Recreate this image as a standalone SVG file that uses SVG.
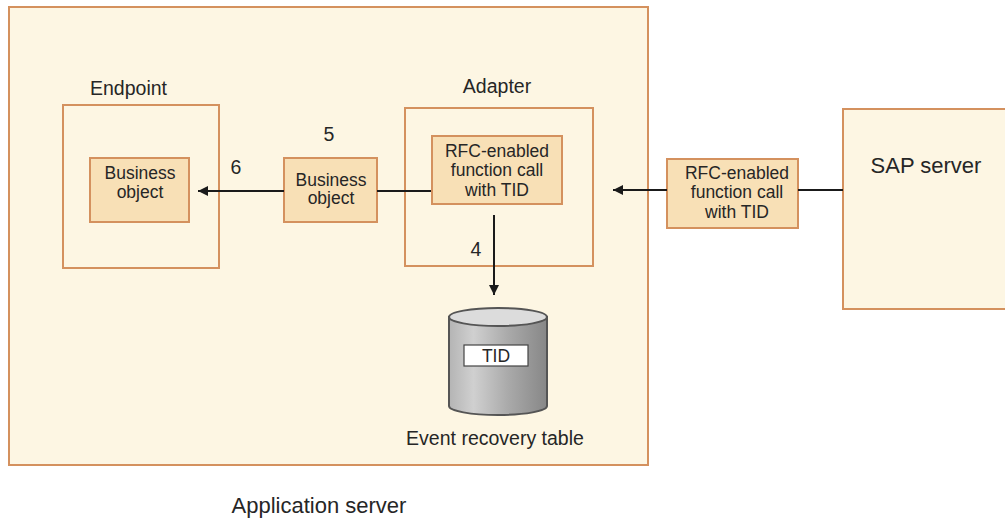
<svg xmlns="http://www.w3.org/2000/svg" width="1005" height="518" viewBox="0 0 1005 518">
<style>
.outer{fill:#fdf6e3;stroke:#d4915e;stroke-width:2}
.inner{fill:#f8e0b6;stroke:#d4915e;stroke-width:2}
.t{font-family:"Liberation Sans",Arial,sans-serif;fill:#262626}
.s18{font-size:17.5px}
.s20{font-size:19.5px}
.s22{font-size:22px}
.conn{stroke:#1a1a1a;stroke-width:2;fill:none}
</style>
<defs>
<marker id="arr" viewBox="0 0 10 10" refX="10" refY="5" markerWidth="10" markerHeight="10" markerUnits="userSpaceOnUse" orient="auto">
<path d="M0,0 L10,5 L0,10 Z" fill="#1a1a1a"/>
</marker>
<linearGradient id="cyl" x1="0" y1="0" x2="1" y2="0">
<stop offset="0" stop-color="#b4b4b4"/>
<stop offset="0.25" stop-color="#d0d0d0"/>
<stop offset="0.6" stop-color="#aaaaaa"/>
<stop offset="1" stop-color="#878787"/>
</linearGradient>
</defs>
<rect width="1005" height="518" fill="#ffffff"/>
<g id="application-server">
<rect class="outer" x="9" y="7" width="639" height="458"/>
<text class="t s22" x="319" y="513" text-anchor="middle">Application server</text>
</g>
<g id="sap-server">
<rect class="outer" x="843" y="109" width="170" height="200"/>
<text class="t s22" x="926" y="173" text-anchor="middle">SAP server</text>
</g>
<g id="endpoint">
<rect class="outer" x="63" y="105" width="156" height="163"/>
<text class="t s20" x="90" y="95">Endpoint</text>
</g>
<g id="endpoint-business-object">
<rect class="inner" x="90" y="158" width="99" height="64"/>
<text class="t s18" x="140" y="179" text-anchor="middle">Business</text>
<text class="t s18" x="140" y="198" text-anchor="middle">object</text>
</g>
<g id="business-object">
<rect class="inner" x="284" y="158" width="93" height="64"/>
<text class="t s18" x="331" y="186" text-anchor="middle">Business</text>
<text class="t s18" x="331" y="204" text-anchor="middle">object</text>
</g>
<g id="adapter">
<rect class="outer" x="405" y="108" width="188" height="158"/>
<text class="t s20" x="497" y="93" text-anchor="middle">Adapter</text>
</g>
<g id="adapter-rfc">
<rect class="inner" x="432" y="136" width="130" height="68"/>
<text class="t s18" x="497" y="157" text-anchor="middle">RFC-enabled</text>
<text class="t s18" x="497" y="176" text-anchor="middle">function call</text>
<text class="t s18" x="497" y="196" text-anchor="middle">with TID</text>
</g>
<g id="sap-rfc">
<rect class="inner" x="667" y="159" width="131" height="69"/>
<text class="t s18" x="737" y="179" text-anchor="middle">RFC-enabled</text>
<text class="t s18" x="737" y="198" text-anchor="middle">function call</text>
<text class="t s18" x="737" y="218" text-anchor="middle">with TID</text>
</g>
<g id="event-recovery-table">
<path d="M449,317 L449,406 A49,9 0 0 0 547,406 L547,317 Z" fill="url(#cyl)" stroke="#555555" stroke-width="2"/>
<ellipse cx="498" cy="317" rx="49" ry="9" fill="#dcdcdc" stroke="#555555" stroke-width="2"/>
<rect x="464" y="345" width="64" height="21" fill="#ffffff" stroke="#444444" stroke-width="1.2"/>
<text class="t s18" x="496" y="362" text-anchor="middle">TID</text>
<text class="t s20" x="495" y="445" text-anchor="middle">Event recovery table</text>
</g>
<g id="connectors">
<line class="conn" x1="843" y1="190" x2="798" y2="190"/>
<line class="conn" x1="667" y1="190" x2="613" y2="190" marker-end="url(#arr)"/>
<line class="conn" x1="431" y1="191" x2="377" y2="191"/>
<line class="conn" x1="284" y1="191" x2="198" y2="191" marker-end="url(#arr)"/>
<line class="conn" x1="494" y1="215" x2="494" y2="295" marker-end="url(#arr)"/>
<text class="t s20" x="329" y="141" text-anchor="middle">5</text>
<text class="t s20" x="236" y="174" text-anchor="middle">6</text>
<text class="t s20" x="476" y="256" text-anchor="middle">4</text>
</g>
</svg>
